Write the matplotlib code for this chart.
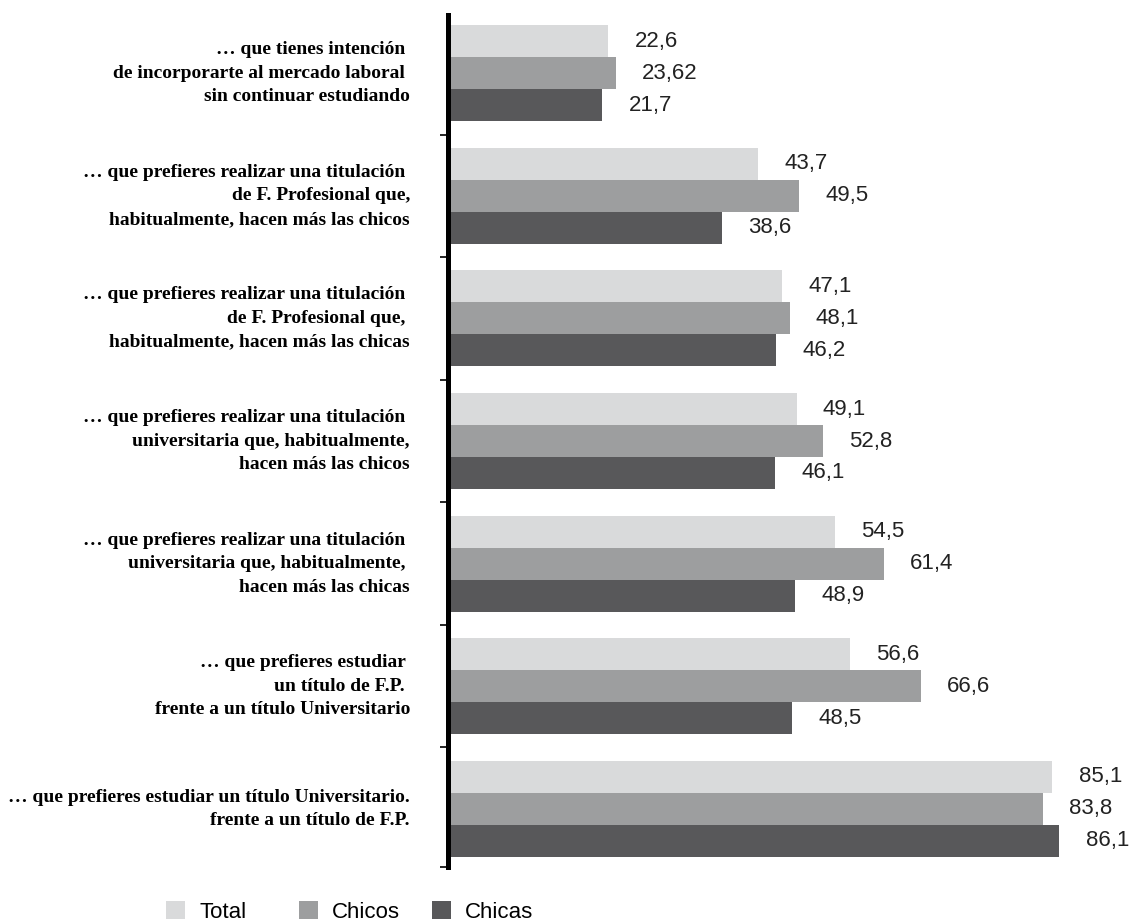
import matplotlib
matplotlib.use("Agg")
import matplotlib.pyplot as plt
import matplotlib.transforms as mtransforms
from matplotlib.patches import Patch
import numpy as np

# categories, top to bottom
categories = [
    "… que tienes intención \nde incorporarte al mercado laboral \nsin continuar estudiando",
    "… que prefieres realizar una titulación \nde F. Profesional que,\nhabitualmente, hacen más las chicos",
    "… que prefieres realizar una titulación \nde F. Profesional que, \nhabitualmente, hacen más las chicas",
    "… que prefieres realizar una titulación \nuniversitaria que, habitualmente,\nhacen más las chicos",
    "… que prefieres realizar una titulación \nuniversitaria que, habitualmente, \nhacen más las chicas",
    "… que prefieres estudiar \nun título de F.P. \nfrente a un título Universitario",
    "… que prefieres estudiar un título Universitario.\nfrente a un título de F.P.",
]
series = ["Total", "Chicos", "Chicas"]
total = [22.6, 43.7, 47.1, 49.1, 54.5, 56.6, 85.1]
chicos = [23.62, 49.5, 48.1, 52.8, 61.4, 66.6, 83.8]
chicas = [21.7, 38.6, 46.2, 46.1, 48.9, 48.5, 86.1]
colors = ["#d9dadb", "#9d9e9f", "#58585a"]

W, H = 1132, 923
fig = plt.figure(figsize=(W / 100, H / 100), dpi=100)
ax = fig.add_axes([448 / W, (H - 867) / H, (W - 448) / W, (867 - 15) / H])

num_font = ["Liberation Sans", "DejaVu Sans"]
lab_font = ["Liberation Serif", "DejaVu Serif"]

y = np.arange(len(categories))
h = 0.261
for k, (vals, col) in enumerate(zip([total, chicos, chicas], colors)):
    pos = y + (k - 1) * h
    ax.barh(pos, vals, height=h, color=col, edgecolor="none")
    for p, v in zip(pos, vals):
        ax.annotate(str(v).replace(".", ","), (v, p), xytext=(19, 0),
                    textcoords="offset points", va="center", ha="left",
                    fontsize=16, family=num_font, color="#222222")

ax.set_xlim(0, (W - 448) / 7.1)
ax.set_ylim(len(categories) - 0.525, -0.475)

for s in ["top", "right", "bottom"]:
    ax.spines[s].set_visible(False)
ax.spines["left"].set_linewidth(3.6)
ax.set_xticks([])
ax.set_yticks(list(np.arange(len(categories) - 1) + 0.5) + [len(categories) - 0.525])
ax.set_yticklabels([])
ax.tick_params(axis="y", length=6, width=1.2, direction="out")

trans = mtransforms.blended_transform_factory(fig.transFigure, ax.transData)
for i, c in enumerate(categories):
    ax.text(410 / W, i, c, transform=trans, ha="right", va="center",
            multialignment="right", fontsize=14, fontweight="bold",
            family=lab_font, linespacing=1.5)

for i, (name, col) in enumerate(zip(series, colors)):
    fig.legend(handles=[Patch(facecolor=col, edgecolor="none")], labels=[name],
               loc="center left", bbox_to_anchor=((166 + i * 133) / W, 11 / H),
               frameon=False, prop={"family": num_font, "size": 16},
               handlelength=0.85, handleheight=0.85, handletextpad=0.65,
               borderpad=0, borderaxespad=0)

fig.savefig("out.png", dpi=100)
